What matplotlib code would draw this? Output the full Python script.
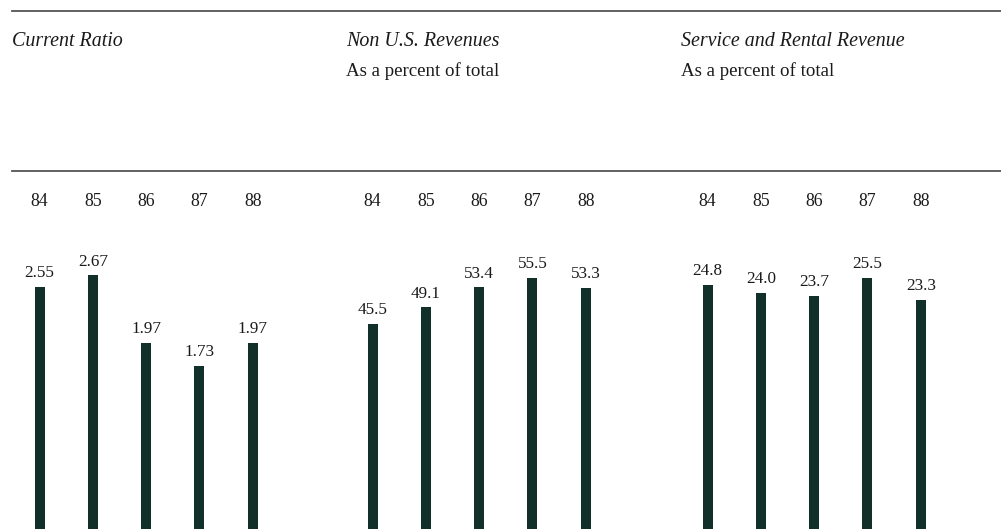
import matplotlib
matplotlib.use("Agg")
import matplotlib.pyplot as plt
from matplotlib.lines import Line2D

years = ["84", "85", "86", "87", "88"]
current_ratio = [2.55, 2.67, 1.97, 1.73, 1.97]
non_us_revenues = [45.5, 49.1, 53.4, 55.5, 53.3]
service_rental = [24.8, 24.0, 23.7, 25.5, 23.3]

cr_labels = ["2.55", "2.67", "1.97", "1.73", "1.97"]
nus_labels = ["45.5", "49.1", "53.4", "55.5", "53.3"]
sr_labels = ["24.8", "24.0", "23.7", "25.5", "23.3"]

titles = ["Current Ratio", "Non U.S. Revenues", "Service and Rental Revenue"]
subtitles = ["", "As a percent of total", "As a percent of total"]

W, H = 1001, 529
fig = plt.figure(figsize=(W / 100, H / 100), dpi=100)
fig.patch.set_facecolor("white")

SERIF = ["Liberation Serif", "DejaVu Serif"]
BAR = "#11302a"
TEXT = "#1a1a1a"

def fx(px):
    return px / W

def fy(py):
    return 1 - py / H

# horizontal rules
for yy in (11, 171):
    fig.add_artist(Line2D([fx(12), fx(1001)], [fy(yy), fy(yy)], color="#555555", lw=1.3,
                          transform=fig.transFigure))

# panel settings: first bar center, pixels per unit
panels = [
    (current_ratio, cr_labels, 39.5, 96.6),
    (non_us_revenues, nus_labels, 372.5, 4.6),
    (service_rental, sr_labels, 707.5, 10.0),
]
title_x = [12, 346, 681]
spacing = 53.3
base_px = 533.0
top_px = 180.0

for i, (vals, labs, x0, ppu) in enumerate(panels):
    left = x0 - 30
    right = x0 + 4 * spacing + 30
    ax = fig.add_axes([fx(left), fy(base_px), fx(right - left), (base_px - top_px) / H])
    ax.set_xlim(-30 / spacing, 4 + 30 / spacing)
    ax.set_ylim(0, (base_px - top_px) / ppu)
    ax.axis("off")
    xs = list(range(len(vals)))
    ax.bar(xs, vals, width=10 / spacing, color=BAR)
    for x, v, lab in zip(xs, vals, labs):
        ax.annotate(lab, (x, v), xytext=(0, 4), textcoords="offset points",
                    ha="center", va="bottom", fontsize=12.3, family=SERIF, color=TEXT)
    for k, yr in enumerate(years):
        fig.text(fx(x0 + k * spacing), fy(202), yr, ha="center", va="center",
                 fontsize=12.8, family=SERIF, color=TEXT)
    fig.text(fx(title_x[i]), fy(41), titles[i], ha="left", va="center",
             fontsize=14.4, family=SERIF, style="italic", color=TEXT)
    if subtitles[i]:
        fig.text(fx(title_x[i]), fy(71), subtitles[i], ha="left", va="center",
                 fontsize=13.6, family=SERIF, color=TEXT)

fig.savefig("out.png", dpi=100, facecolor="white")
